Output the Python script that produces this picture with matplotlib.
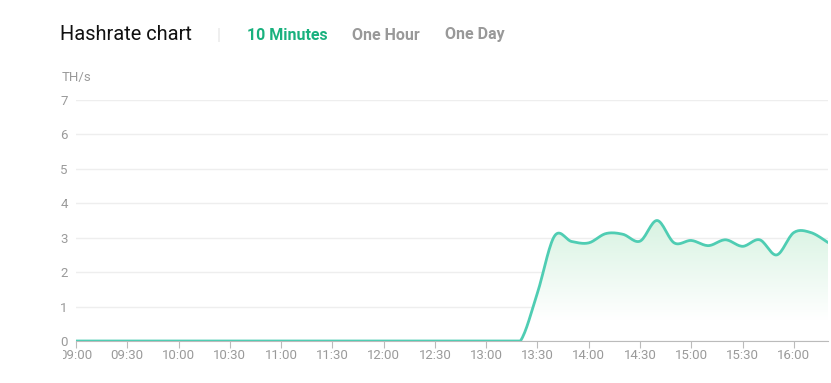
import numpy as np
import matplotlib
matplotlib.use("Agg")
import matplotlib.pyplot as plt
from matplotlib.colors import LinearSegmentedColormap
from matplotlib.transforms import Bbox

plt.rcParams['font.family'] = ['Roboto', 'DejaVu Sans']

# minutes after 09:00, one sample every 10 minutes
minutes = list(range(0, 450, 10))
hashrate = [0, 0, 0, 0, 0, 0, 0, 0, 0, 0,
            0, 0, 0, 0, 0, 0, 0, 0, 0, 0,
            0, 0, 0, 0, 0, 0, 0, 1.4, 3.05, 2.89,
            2.85, 3.12, 3.1, 2.9, 3.5, 2.85, 2.92, 2.77, 2.94, 2.75,
            2.94, 2.5, 3.15, 3.15, 2.86]
tick_labels = ['09:00', '09:30', '10:00', '10:30', '11:00', '11:30', '12:00',
               '12:30', '13:00', '13:30', '14:00', '14:30', '15:00', '15:30', '16:00']
y_ticks = [0, 1, 2, 3, 4, 5, 6, 7]

line_color = '#4fcdb3'


def smooth(xs, ys, n=16):
    # catmull-rom drawing between the samples
    xs = np.asarray(xs, float)
    ys = np.asarray(ys, float)
    px = np.concatenate([[xs[0]], xs, [xs[-1]]])
    py = np.concatenate([[ys[0]], ys, [ys[-1]]])
    out_x, out_y = [], []
    for i in range(1, len(px) - 2):
        t = np.linspace(0, 1, n, endpoint=False)
        for p, out in ((px, out_x), (py, out_y)):
            p0, p1, p2, p3 = p[i - 1], p[i], p[i + 1], p[i + 2]
            m1 = (p2 - p0) / 2
            m2 = (p3 - p1) / 2
            h00 = 2 * t**3 - 3 * t**2 + 1
            h10 = t**3 - 2 * t**2 + t
            h01 = -2 * t**3 + 3 * t**2
            h11 = t**3 - t**2
            out.extend(h00 * p1 + h10 * m1 + h01 * p2 + h11 * m2)
    out_x.append(xs[-1])
    out_y.append(ys[-1])
    return np.array(out_x), np.clip(np.array(out_y), 0, None)


fig = plt.figure(figsize=(8.31, 3.83), dpi=100)
ax = fig.add_axes([76 / 831, 42 / 383, 752 / 831, 241 / 383])

sx, sy = smooth(minutes, hashrate)

# gradient fill under the line
cmap = LinearSegmentedColormap.from_list('g', ['#ffffff', '#d8f3e2'])
grad = np.linspace(0, 1, 256).reshape(-1, 1)
img = ax.imshow(grad, cmap=cmap, aspect='auto', origin='lower',
                extent=[0, 440, 0.6, 3.5], zorder=1)
poly = ax.fill_between(sx, 0, sy, color='none')
clip = poly.get_paths()[0]
img.set_clip_path(clip, ax.transData)

ax.plot(sx, sy, color=line_color, lw=2, zorder=3, solid_capstyle='round')

ax.set_xlim(0, 440)
ax.set_ylim(0, 7)
ax.set_yticks(y_ticks)
ax.set_xticks(range(0, 30 * len(tick_labels), 30))
ax.set_xticklabels(tick_labels)
ax.grid(axis='y', color='#eeeeee', lw=1)
ax.set_axisbelow(True)
for s in ['top', 'right', 'left']:
    ax.spines[s].set_visible(False)
ax.spines['bottom'].set_color('#bbbbbb')
ax.tick_params(axis='x', colors='#bbbbbb', labelcolor='#9a9a9a', length=5,
               labelsize=9.5, pad=1)
ax.tick_params(axis='y', length=0, labelcolor='#9a9a9a', labelsize=9.5, pad=6)

# the first time label is cut off at the left edge of the panel
first = ax.get_xticklabels()[0]
first.set_clip_on(True)
first.set_clip_box(Bbox.from_extents(63, 0, 831, 383))

fig.text(62 / 831, 1 - 77 / 383, 'TH/s', color='#9a9a9a', fontsize=9.5,
         va='center', ha='left')
fig.text(60 / 831, 1 - 35 / 383, 'Hashrate chart', color='#111111',
         fontsize=14.4, va='center', ha='left')
fig.text(219 / 831, 1 - 35 / 383, '|', color='#e6e6e6', fontsize=12,
         va='center', ha='center')
fig.text(247 / 831, 1 - 35 / 383, '10 Minutes', color='#19b17e',
         fontsize=11.5, fontweight='bold', va='center', ha='left')
fig.text(352 / 831, 1 - 35 / 383, 'One Hour', color='#999999',
         fontsize=11.5, fontweight='bold', va='center', ha='left')
fig.text(445 / 831, 1 - 35 / 383, 'One Day', color='#999999',
         fontsize=11.5, fontweight='bold', va='center', ha='left')

fig.savefig('out.png', dpi=100)
